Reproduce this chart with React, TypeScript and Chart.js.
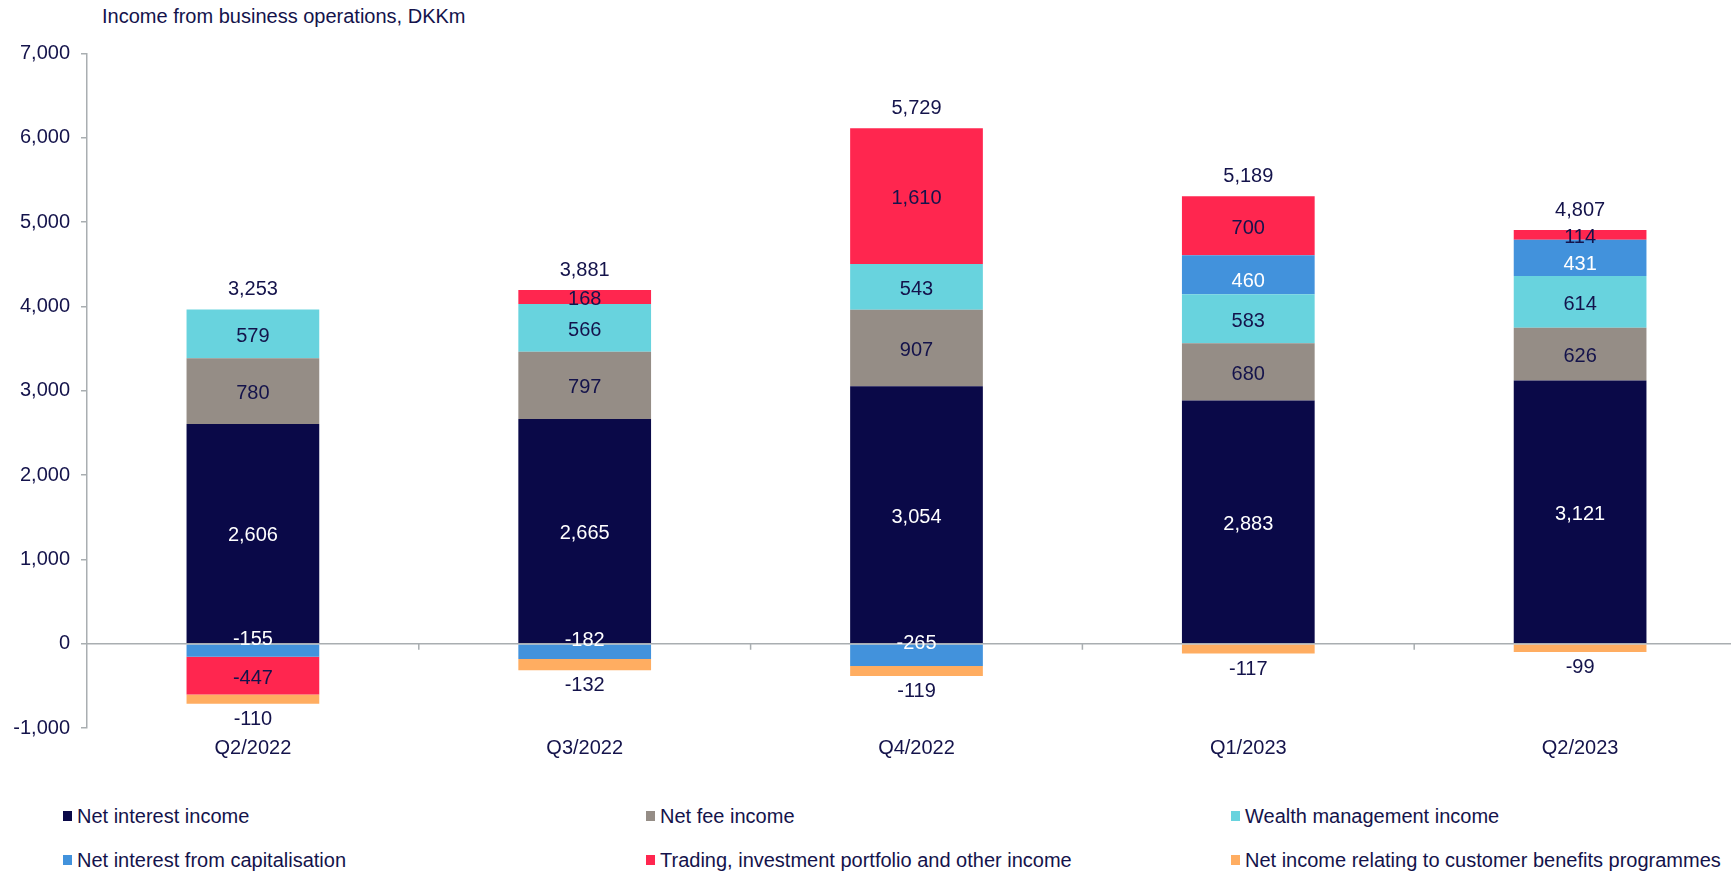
import React, { useEffect, useRef } from "react";
import { Chart, registerables } from "chart.js";

Chart.register(...registerables);

const categories = ["Q2/2022", "Q3/2022", "Q4/2022", "Q1/2023", "Q2/2023"];
const netInterestIncome = [2606, 2665, 3054, 2883, 3121];
const netFeeIncome = [780, 797, 907, 680, 626];
const wealthManagementIncome = [579, 566, 543, 583, 614];
const netInterestFromCapitalisation = [-155, -182, -265, 460, 431];
const tradingIncome = [-447, 168, 1610, 700, 114];
const customerBenefits = [-110, -132, -119, -117, -99];
const totals = [3253, 3881, 5729, 5189, 4807];

const seriesNames = [
  "Net interest income",
  "Net fee income",
  "Wealth management income",
  "Net interest from capitalisation",
  "Trading, investment portfolio and other income",
  "Net income relating to customer benefits programmes",
];
const seriesValues = [
  netInterestIncome,
  netFeeIncome,
  wealthManagementIncome,
  netInterestFromCapitalisation,
  tradingIncome,
  customerBenefits,
];
const seriesColors = ["#0A0948", "#958D86", "#68D3DE", "#4292DC", "#FF264F", "#FFAD61"];
const NAVY = "#14134B";
const labelColors = ["#FFFFFF", NAVY, NAVY, "#FFFFFF", NAVY, NAVY];
const AXIS_GRAY = "#A9AEB1";
const FONT = "'Liberation Sans', Arial, sans-serif";

const fmt = (v: number) => v.toLocaleString("en-US");

const labelsPlugin = {
  id: "valueLabels",
  afterDatasetsDraw(chart: any) {
    const ctx = chart.ctx;
    const y = chart.scales.y;
    const area = chart.chartArea;
    // zero line and category ticks
    ctx.save();
    const zy = y.getPixelForValue(0);
    ctx.strokeStyle = AXIS_GRAY;
    ctx.lineWidth = 1.5;
    ctx.beginPath();
    ctx.moveTo(area.left, zy);
    ctx.lineTo(area.right, zy);
    const catW = (area.right - area.left) / categories.length;
    for (let k = 1; k <= categories.length; k++) {
      const tx = area.left + k * catW;
      ctx.moveTo(tx, zy);
      ctx.lineTo(tx, zy + 6);
    }
    ctx.stroke();

    const adj = 2.5;
    ctx.font = `20px ${FONT}`;
    ctx.textAlign = "center";
    ctx.textBaseline = "middle";
    chart.data.datasets.forEach((ds: any, di: number) => {
      const meta = chart.getDatasetMeta(di);
      meta.data.forEach((bar: any, i: number) => {
        const v = ds.data[i];
        const top = Math.min(bar.y, bar.base);
        const bottom = Math.max(bar.y, bar.base);
        let ly = (top + bottom) / 2;
        if (di === 5) ly = bottom + 13;
        else if (di === 3 && v < 0) ly = ly - 14;
        else if (di === 3) ly = ly + 4.5;
        ctx.fillStyle = labelColors[di];
        ctx.fillText(fmt(v), bar.x, ly + adj);
      });
    });
    // totals
    for (let i = 0; i < categories.length; i++) {
      let topY = Infinity;
      let bx = 0;
      chart.data.datasets.forEach((_ds: any, di: number) => {
        const bar = chart.getDatasetMeta(di).data[i];
        topY = Math.min(topY, bar.y, bar.base);
        bx = bar.x;
      });
      ctx.fillStyle = NAVY;
      ctx.fillText(fmt(totals[i]), bx, topY - 22 + adj);
    }
    ctx.restore();
  },
};

export default function App() {
  const ref = useRef<HTMLCanvasElement>(null);
  useEffect(() => {
    if (!ref.current) return;
    const chart = new Chart(ref.current, {
      type: "bar",
      data: {
        labels: categories,
        datasets: seriesNames.map((name, i) => ({
          label: name,
          data: seriesValues[i],
          backgroundColor: seriesColors[i],
          borderWidth: 0,
          categoryPercentage: 1,
          barPercentage: 0.4,
        })),
      },
      options: {
        responsive: false,
        animation: false,
        layout: { padding: { top: 53.5, right: 14, left: 0, bottom: 0 } },
        plugins: { legend: { display: false }, tooltip: { enabled: false }, title: { display: false } },
        scales: {
          x: {
            stacked: true,
            grid: { display: false, drawTicks: false },
            border: { display: false },
            ticks: { color: NAVY, font: { family: FONT, size: 20 }, padding: 8, maxRotation: 0 },
            afterFit: (s: any) => {
              s.height = 40;
            },
          },
          y: {
            stacked: true,
            min: -1000,
            max: 7000,
            grid: { drawOnChartArea: false, drawTicks: true, tickLength: 6, color: AXIS_GRAY, lineWidth: 1.5 },
            border: { display: true, color: AXIS_GRAY, width: 1.5 },
            ticks: {
              stepSize: 1000,
              color: NAVY,
              font: { family: FONT, size: 20 },
              padding: 11,
              callback: (v: any) => fmt(Number(v)),
            },
            afterFit: (s: any) => {
              s.width = 87;
            },
          },
        },
      },
      plugins: [labelsPlugin],
    });
    return () => chart.destroy();
  }, []);

  const legendCols = [63, 646, 1231];
  const legendRows = [816, 860];

  return (
    <div
      style={{
        position: "absolute",
        left: 0,
        top: 0,
        width: 1731,
        height: 873,
        overflow: "hidden",
        background: "#fff",
        fontFamily: FONT,
        color: NAVY,
      }}
    >
      <div style={{ position: "absolute", left: 102, top: 4, fontSize: 20, lineHeight: "24px", whiteSpace: "nowrap" }}>
        Income from business operations, DKKm
      </div>
      <canvas ref={ref} width={1760} height={768} style={{ position: "absolute", left: 0, top: 0, width: 1760, height: 768 }} />
      {seriesNames.map((name, i) => {
        const col = legendCols[i % 3];
        const row = legendRows[Math.floor(i / 3)];
        return (
          <div key={name}>
            <div
              style={{
                position: "absolute",
                left: col,
                top: row - 5,
                width: 9,
                height: 10,
                background: seriesColors[i],
              }}
            />
            <div
              style={{
                position: "absolute",
                left: col + 14,
                top: row - 12,
                fontSize: 20,
                lineHeight: "24px",
                whiteSpace: "nowrap",
              }}
            >
              {name}
            </div>
          </div>
        );
      })}
    </div>
  );
}
